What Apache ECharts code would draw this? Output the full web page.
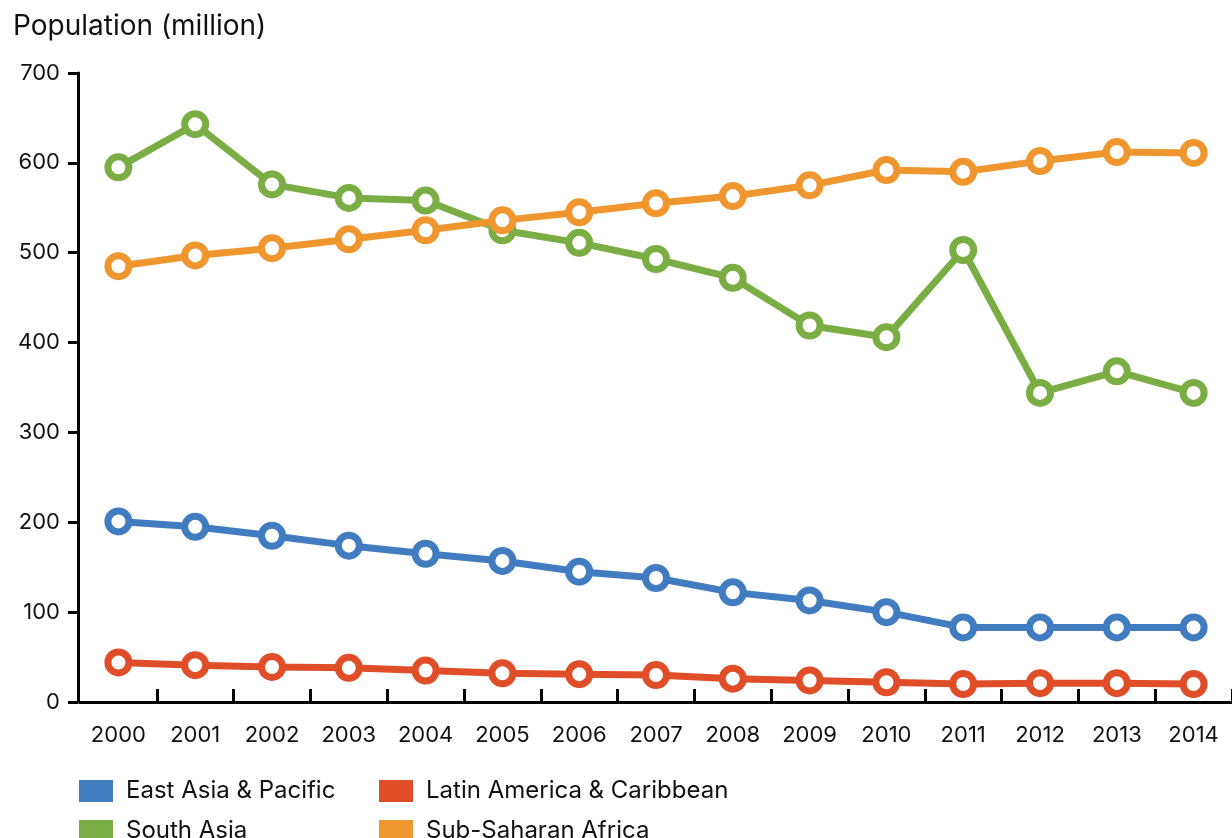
<!DOCTYPE html>
<html><head><meta charset="utf-8">
<script src="https://cdn.jsdelivr.net/npm/echarts@6/dist/echarts.min.js"></script>
<style>html,body{margin:0;padding:0;background:#fff}#c{width:1232px;height:838px}</style>
</head><body><div id="c"></div>
<script>
const years = ['2000','2001','2002','2003','2004','2005','2006','2007','2008','2009','2010','2011','2012','2013','2014'];
const eastAsia = [201,195,185,174,165,157,145,138,122,113,100,83,83,83,83];
const latinAmerica = [44,41,39,38,35,32,31,30,26,24,22,20,21,21,20];
const southAsia = [595,643,576,561,558,525,511,493,472,419,406,503,344,368,344];
const subSaharan = [485,497,505,515,525,536,545,555,563,575,592,590,602,612,611];
const yTicks = [0,100,200,300,400,500,600,700];

const FONT = 'Inter, "Open Sans", sans-serif';
const INK = '#111111';
const colors = {
  'East Asia & Pacific': '#407cbf',
  'Latin America & Caribbean': '#e04e29',
  'South Asia': '#7aae44',
  'Sub-Saharan Africa': '#ef962e'
};
function mk(name, data) {
  return {
    name, type: 'line', data,
    symbol: 'circle', symbolSize: 21,
    lineStyle: { width: 7, color: colors[name] },
    itemStyle: { color: '#ffffff', borderColor: colors[name], borderWidth: 7 },
    emphasis: { disabled: true },
    animation: false
  };
}
function legendData(names) {
  return names.map(n => ({ name: n, itemStyle: { color: colors[n], borderWidth: 0 } }));
}
function mkLegend(left, names) {
  return {
    orient: 'vertical', left, top: 779, padding: 0, height: 300,
    itemWidth: 34, itemHeight: 22, itemGap: 16,
    icon: 'rect', data: legendData(names),
    textStyle: { fontFamily: FONT, fontSize: 24, lineHeight: 22, color: INK, padding: [0, 0, 0, 8] },
    selectedMode: false
  };
}
const chart = echarts.init(document.getElementById('c'), null, { renderer: 'canvas' });
chart.setOption({
  backgroundColor: '#ffffff',
  title: {
    text: 'Population (million)', left: 13, top: 13, padding: 0,
    textStyle: { fontFamily: FONT, fontSize: 28, fontWeight: 'normal', color: INK }
  },
  legend: [
    mkLegend(79, ['East Asia & Pacific', 'South Asia']),
    mkLegend(379, ['Latin America & Caribbean', 'Sub-Saharan Africa'])
  ],
  grid: { left: 80, top: 73, width: 1164, bottom: 136, containLabel: false },
  xAxis: {
    type: 'category', data: years, boundaryGap: true,
    axisLine: { lineStyle: { color: '#000', width: 3 } },
    axisTick: { show: true, inside: true, length: 13, interval: function (i) { return i > 0; }, lineStyle: { color: '#000', width: 3 } },
    axisLabel: { fontFamily: FONT, fontSize: 22, color: INK, margin: 22, interval: 0 },
    splitLine: { show: false }
  },
  yAxis: {
    type: 'value', min: yTicks[0], max: yTicks[yTicks.length - 1], interval: 100, offset: 2,
    axisLine: { show: true, lineStyle: { color: '#000', width: 3 } },
    axisTick: { show: true, inside: false, length: 10, lineStyle: { color: '#000', width: 3 } },
    axisLabel: { fontFamily: FONT, fontSize: 22, color: INK, margin: 18 },
    splitLine: { show: false }
  },
  series: [
    mk('East Asia & Pacific', eastAsia),
    mk('Latin America & Caribbean', latinAmerica),
    mk('South Asia', southAsia),
    mk('Sub-Saharan Africa', subSaharan)
  ]
});
</script></body></html>
